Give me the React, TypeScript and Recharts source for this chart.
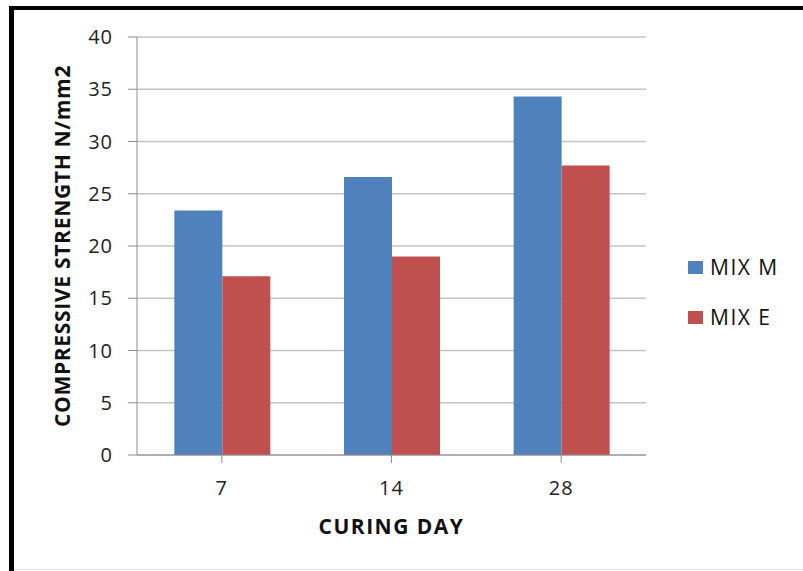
import { Bar, BarChart, CartesianGrid, Label, Legend, XAxis, YAxis } from "recharts";

// curing ages (days) and compressive strength per mix
const days = ["7", "14", "28"];
const mixM = [23.4, 26.6, 34.3];
const mixE = [17.1, 19.0, 27.7];
const yTicks = [0, 5, 10, 15, 20, 25, 30, 35, 40];
const seriesNames = ["MIX M", "MIX E"];
const seriesColors = ["#4f81bd", "#c0504d"];

const data = days.map((d, i) => ({ day: d, [seriesNames[0]]: mixM[i], [seriesNames[1]]: mixE[i] }));

const font = "'Open Sans', sans-serif";

// keep the series order instead of the legend's alphabetical sort
const LegendBox = () => (
    <div style={{ fontFamily: font }}>
        {seriesNames.map((name, i) => (
            <div
                key={name}
                style={{ display: "flex", alignItems: "center", height: 50, fontSize: 21, letterSpacing: 1.5, color: "#111" }}
            >
                <span style={{ width: 15, height: 13, background: seriesColors[i], marginRight: 7 }} />
                {name}
            </div>
        ))}
    </div>
);

const App = () => {
    return (
        <div
            style={{
                position: "absolute",
                left: 0,
                top: 0,
                width: 803,
                height: 571,
                background: "#fff",
            }}
        >
            {/* frame */}
            <div style={{ position: "absolute", left: 9, top: 6, right: 0, height: 4, background: "#000" }} />
            <div style={{ position: "absolute", left: 9, top: 6, bottom: 0, width: 5, background: "#000" }} />
            <div style={{ position: "absolute", left: 14, bottom: 1, right: 0, height: 1, background: "#ddd" }} />
            <BarChart
                width={803}
                height={571}
                data={data}
                margin={{ top: 37, right: 157, bottom: 0, left: 0 }}
                barCategoryGap="22%"
                barGap={0}
            >
                <CartesianGrid vertical={false} stroke="#c4c4c4" strokeWidth={1.5} />
                <XAxis
                    dataKey="day"
                    height={116}
                    stroke="#8c8c8c"
                    tickSize={8}
                    tickMargin={18}
                    tick={{ fill: "#222", fontSize: 20, fontFamily: font, letterSpacing: 1 }}
                >
                    <Label
                        value="CURING DAY"
                        position="insideTop"
                        offset={64}
                        style={{ fill: "#111", fontSize: 21, fontWeight: 700, fontFamily: font, letterSpacing: 1.5 }}
                    />
                </XAxis>
                <YAxis
                    width={137}
                    domain={[0, 40]}
                    ticks={yTicks}
                    interval={0}
                    stroke="#8c8c8c"
                    tickSize={9}
                    tickMargin={15}
                    tick={{ fill: "#222", fontSize: 20, fontFamily: font, letterSpacing: 1 }}
                >
                    <Label
                        value="COMPRESSIVE STRENGTH N/mm2"
                        angle={-90}
                        position="center"
                        dx={-6}
                        style={{ fill: "#111", fontSize: 21, fontWeight: 700, fontFamily: font, letterSpacing: 0.7 }}
                    />
                </YAxis>
                <Legend
                    layout="vertical"
                    align="center"
                    verticalAlign="middle"
                    content={<LegendBox />}
                    wrapperStyle={{ left: 688, top: 242, width: 110 }}
                />
                {seriesNames.map((name, i) => (
                    <Bar key={name} dataKey={name} fill={seriesColors[i]} isAnimationActive={false} />
                ))}
            </BarChart>
        </div>
    );
};

export default App;
